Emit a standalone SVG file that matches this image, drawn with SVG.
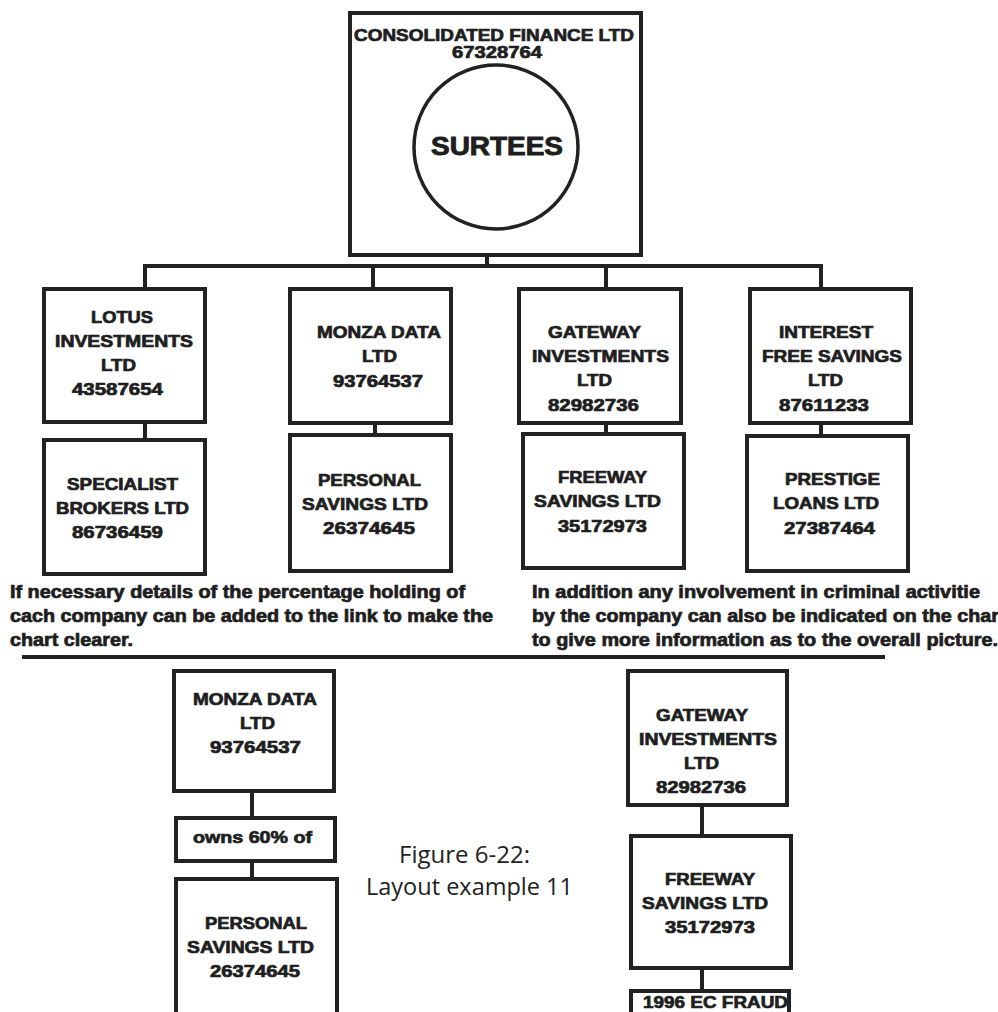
<svg xmlns="http://www.w3.org/2000/svg" width="998" height="1012" viewBox="0 0 998 1012">
<style>
.box{fill:#fff;stroke:#222;stroke-width:4}
.ln{stroke:#222;stroke-width:4;fill:none}
.t{font-family:"Liberation Sans",Arial,sans-serif;font-weight:bold;font-size:16.5px;fill:#1e1e1e;stroke:#1e1e1e;stroke-width:0.7}
.p{font-family:"Liberation Sans",Arial,sans-serif;font-weight:bold;font-size:17.5px;fill:#1e1e1e;stroke:#1e1e1e;stroke-width:0.7}
.big{font-family:"Liberation Sans",Arial,sans-serif;font-weight:bold;font-size:25px;fill:#1e1e1e;stroke:#1e1e1e;stroke-width:0.9}
.cap{font-family:"Open Sans","Noto Sans",sans-serif;font-size:23px;fill:#222}
</style>
<rect width="998" height="1012" fill="#fff"/>
<g id="connectors">
<line class="ln" x1="487" y1="257" x2="487" y2="266"/>
<line class="ln" x1="143" y1="266" x2="823" y2="266"/>
<line class="ln" x1="145" y1="266" x2="145" y2="289"/>
<line class="ln" x1="373" y1="266" x2="373" y2="289"/>
<line class="ln" x1="606" y1="266" x2="606" y2="289"/>
<line class="ln" x1="821" y1="266" x2="821" y2="289"/>
<line class="ln" x1="145" y1="424" x2="145" y2="440"/>
<line class="ln" x1="375" y1="425" x2="375" y2="435"/>
<line class="ln" x1="606" y1="425" x2="606" y2="434"/>
<line class="ln" x1="821" y1="425" x2="821" y2="441"/>
<line class="ln" x1="252" y1="793" x2="252" y2="818"/>
<line class="ln" x1="252" y1="863" x2="252" y2="879"/>
<line class="ln" x1="702" y1="807" x2="702" y2="836"/>
<line class="ln" x1="702" y1="970" x2="702" y2="991"/>
</g>
<g id="consolidated">
<rect class="box" x="350" y="13" width="291" height="242"/>
<text class="t" x="354" y="41" textLength="280" lengthAdjust="spacingAndGlyphs">CONSOLIDATED FINANCE LTD</text>
<text class="t" x="452" y="58" textLength="90" lengthAdjust="spacingAndGlyphs">67328764</text>
</g>
<g id="surtees">
<circle cx="496" cy="147" r="82" fill="#fff" stroke="#222" stroke-width="3.5"/>
<text class="big" x="431" y="155" textLength="132" lengthAdjust="spacingAndGlyphs">SURTEES</text>
</g>
<g id="lotus">
<rect class="box" x="44" y="289" width="161" height="133"/>
<text class="t" x="91" y="323" textLength="62" lengthAdjust="spacingAndGlyphs">LOTUS</text>
<text class="t" x="55" y="347" textLength="138" lengthAdjust="spacingAndGlyphs">INVESTMENTS</text>
<text class="t" x="101" y="371" textLength="35" lengthAdjust="spacingAndGlyphs">LTD</text>
<text class="t" x="72" y="395" textLength="91" lengthAdjust="spacingAndGlyphs">43587654</text>
</g>
<g id="specialist">
<rect class="box" x="44" y="440" width="161" height="134"/>
<text class="t" x="67" y="490" textLength="111" lengthAdjust="spacingAndGlyphs">SPECIALIST</text>
<text class="t" x="56" y="514" textLength="133" lengthAdjust="spacingAndGlyphs">BROKERS LTD</text>
<text class="t" x="72" y="538" textLength="91" lengthAdjust="spacingAndGlyphs">86736459</text>
</g>
<g id="monza">
<rect class="box" x="290" y="289" width="161" height="134"/>
<text class="t" x="317" y="338" textLength="124" lengthAdjust="spacingAndGlyphs">MONZA DATA</text>
<text class="t" x="362" y="362" textLength="35" lengthAdjust="spacingAndGlyphs">LTD</text>
<text class="t" x="333" y="387" textLength="90" lengthAdjust="spacingAndGlyphs">93764537</text>
</g>
<g id="personal">
<rect class="box" x="290" y="435" width="161" height="136"/>
<text class="t" x="318" y="486" textLength="103" lengthAdjust="spacingAndGlyphs">PERSONAL</text>
<text class="t" x="302" y="510" textLength="126" lengthAdjust="spacingAndGlyphs">SAVINGS LTD</text>
<text class="t" x="323" y="534" textLength="92" lengthAdjust="spacingAndGlyphs">26374645</text>
</g>
<g id="gateway">
<rect class="box" x="519" y="289" width="162" height="134"/>
<text class="t" x="548" y="338" textLength="93" lengthAdjust="spacingAndGlyphs">GATEWAY</text>
<text class="t" x="532" y="362" textLength="137" lengthAdjust="spacingAndGlyphs">INVESTMENTS</text>
<text class="t" x="577" y="386" textLength="35" lengthAdjust="spacingAndGlyphs">LTD</text>
<text class="t" x="548" y="411" textLength="91" lengthAdjust="spacingAndGlyphs">82982736</text>
</g>
<g id="freeway">
<rect class="box" x="523" y="434" width="161" height="134"/>
<text class="t" x="558" y="483" textLength="89" lengthAdjust="spacingAndGlyphs">FREEWAY</text>
<text class="t" x="534" y="507" textLength="127" lengthAdjust="spacingAndGlyphs">SAVINGS LTD</text>
<text class="t" x="558" y="532" textLength="89" lengthAdjust="spacingAndGlyphs">35172973</text>
</g>
<g id="interest">
<rect class="box" x="750" y="289" width="161" height="134"/>
<text class="t" x="779" y="338" textLength="94" lengthAdjust="spacingAndGlyphs">INTEREST</text>
<text class="t" x="762" y="362" textLength="140" lengthAdjust="spacingAndGlyphs">FREE SAVINGS</text>
<text class="t" x="808" y="386" textLength="35" lengthAdjust="spacingAndGlyphs">LTD</text>
<text class="t" x="779" y="411" textLength="90" lengthAdjust="spacingAndGlyphs">87611233</text>
</g>
<g id="prestige">
<rect class="box" x="747" y="436" width="161" height="135"/>
<text class="t" x="785" y="485" textLength="95" lengthAdjust="spacingAndGlyphs">PRESTIGE</text>
<text class="t" x="773" y="509" textLength="106" lengthAdjust="spacingAndGlyphs">LOANS LTD</text>
<text class="t" x="784" y="534" textLength="91" lengthAdjust="spacingAndGlyphs">27387464</text>
</g>
<g id="notes">
<text class="p" x="10" y="598" textLength="455" lengthAdjust="spacingAndGlyphs">If necessary details of the percentage holding of</text>
<text class="p" x="10" y="622" textLength="483" lengthAdjust="spacingAndGlyphs">cach company can be added to the link to make the</text>
<text class="p" x="10" y="646" textLength="123" lengthAdjust="spacingAndGlyphs">chart clearer.</text>
<text class="p" x="532" y="598" textLength="448" lengthAdjust="spacingAndGlyphs">In addition any involvement in criminal activitie</text>
<text class="p" x="532" y="622" textLength="467" lengthAdjust="spacingAndGlyphs">by the company can also be indicated on the char</text>
<text class="p" x="532" y="646" textLength="466" lengthAdjust="spacingAndGlyphs">to give more information as to the overall picture.</text>
<line class="ln" x1="22" y1="657" x2="885" y2="657"/>
</g>
<g id="monza2">
<rect class="box" x="174" y="671" width="160" height="120"/>
<text class="t" x="193" y="705" textLength="124" lengthAdjust="spacingAndGlyphs">MONZA DATA</text>
<text class="t" x="240" y="729" textLength="35" lengthAdjust="spacingAndGlyphs">LTD</text>
<text class="t" x="210" y="753" textLength="91" lengthAdjust="spacingAndGlyphs">93764537</text>
</g>
<g id="owns">
<rect class="box" x="176" y="818" width="159" height="43"/>
<text class="t" x="193" y="843" textLength="119" lengthAdjust="spacingAndGlyphs">owns 60% of</text>
</g>
<g id="personal2">
<rect class="box" x="176" y="879" width="161" height="160"/>
<text class="t" x="205" y="929" textLength="102" lengthAdjust="spacingAndGlyphs">PERSONAL</text>
<text class="t" x="187" y="953" textLength="127" lengthAdjust="spacingAndGlyphs">SAVINGS LTD</text>
<text class="t" x="210" y="977" textLength="90" lengthAdjust="spacingAndGlyphs">26374645</text>
</g>
<g id="caption">
<text class="cap" x="399" y="863" textLength="131" lengthAdjust="spacingAndGlyphs">Figure 6-22:</text>
<text class="cap" x="366" y="895" textLength="207" lengthAdjust="spacingAndGlyphs">Layout example 11</text>
</g>
<g id="gateway2">
<rect class="box" x="628" y="671" width="159" height="134"/>
<text class="t" x="656" y="721" textLength="92" lengthAdjust="spacingAndGlyphs">GATEWAY</text>
<text class="t" x="639" y="745" textLength="138" lengthAdjust="spacingAndGlyphs">INVESTMENTS</text>
<text class="t" x="684" y="769" textLength="35" lengthAdjust="spacingAndGlyphs">LTD</text>
<text class="t" x="656" y="793" textLength="90" lengthAdjust="spacingAndGlyphs">82982736</text>
</g>
<g id="freeway2">
<rect class="box" x="631" y="836" width="160" height="132"/>
<text class="t" x="665" y="885" textLength="90" lengthAdjust="spacingAndGlyphs">FREEWAY</text>
<text class="t" x="642" y="909" textLength="126" lengthAdjust="spacingAndGlyphs">SAVINGS LTD</text>
<text class="t" x="665" y="933" textLength="90" lengthAdjust="spacingAndGlyphs">35172973</text>
</g>
<g id="fraud">
<rect class="box" x="631" y="991" width="158" height="60"/>
<text class="t" x="643" y="1008" textLength="145" lengthAdjust="spacingAndGlyphs">1996 EC FRAUD</text>
</g>
</svg>
